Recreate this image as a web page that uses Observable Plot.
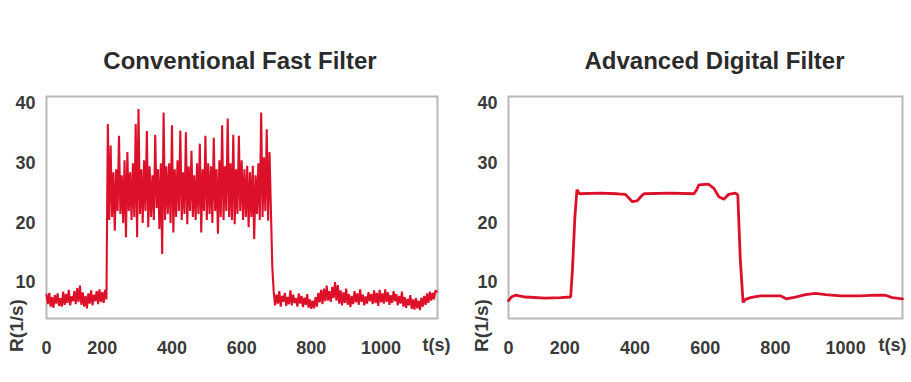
<!DOCTYPE html>
<html><head><meta charset="utf-8">
<script src="https://cdn.jsdelivr.net/npm/d3@7"></script>
<script src="https://cdn.jsdelivr.net/npm/@observablehq/plot@0.6"></script>
<style>
body{margin:0;background:#fff}
#row{display:flex;width:911px;height:382px;overflow:hidden}
</style>
</head><body><div id="row"></div>
<script>
const panelTitles = ["Conventional Fast Filter", "Advanced Digital Filter"];
const xTicks = [0, 200, 400, 600, 800, 1000];
const yTicks = [10, 20, 30, 40];
const xLabel = "t(s)";
const yLabel = "R(1/s)";

// Conventional fast filter: one reading every 4 s starting at t = 40 s
const convStart = 40, convStep = 4;
const convR = [
  8.0, 6.4, 8.3, 6.0, 7.6, 5.8, 7.9, 6.5, 8.2, 6.1,
  7.4, 6.0, 8.5, 6.3, 8.1, 6.6, 8.8, 6.2, 7.7, 6.9,
  8.6, 6.4, 9.1, 6.8, 9.5, 6.3, 8.4, 6.0, 7.8, 5.7,
  8.2, 6.5, 8.7, 6.2, 8.0, 6.9, 8.6, 6.4, 8.9, 6.8,
  8.4, 6.6, 8.8, 7.2,
  36.6, 20.5, 33.0, 21.0, 28.5, 18.7, 29.0, 22.0, 34.6, 21.5,
  28.0, 20.0, 30.5, 17.6, 31.9, 22.0, 28.5, 20.5, 30.0, 21.0,
  36.6, 17.6, 39.1, 21.5, 29.0, 20.0, 30.5, 22.0, 35.4, 19.3,
  29.5, 21.0, 28.0, 20.5, 34.8, 22.5, 29.0, 19.0, 30.0, 14.8,
  38.5, 20.5, 29.5, 21.5, 30.0, 20.0, 36.4, 18.4, 29.0, 21.0,
  30.5, 22.0, 35.5, 20.5, 28.5, 21.5, 35.2, 19.8, 29.5, 22.0,
  32.1, 21.0, 28.0, 20.5, 30.0, 21.5, 33.3, 18.4, 29.0, 22.0,
  34.6, 20.5, 30.0, 21.5, 29.5, 20.0, 34.3, 22.0, 29.0, 18.2,
  30.5, 21.0, 36.4, 20.5, 29.5, 22.0, 37.5, 21.0, 30.0, 20.5,
  34.8, 19.8, 29.0, 21.5, 34.6, 22.0, 30.5, 20.5, 29.0, 21.0,
  29.6, 19.3, 28.5, 21.0, 29.6, 17.3, 28.0, 21.5, 30.0, 20.5,
  38.5, 21.0, 31.0, 22.0, 35.7, 20.4, 31.9, 22.0, 12.6,
  8.5, 6.2, 8.0, 6.5, 8.6, 6.0, 7.8, 6.8, 8.3, 6.1,
  7.6, 6.4, 8.7, 6.2, 8.0, 6.6, 7.4, 6.0, 8.2, 6.5,
  7.8, 5.9, 7.5, 6.3, 8.1, 5.8, 7.2, 5.6, 7.0, 5.7,
  7.6, 6.0, 8.3, 6.7, 8.8, 6.4, 9.0, 6.9, 9.5, 7.0,
  8.6, 6.8, 9.3, 7.4, 10.1, 7.0, 9.6, 6.5, 8.7, 6.2,
  8.4, 6.6, 9.0, 6.3, 8.1, 5.9, 7.8, 6.4, 8.6, 6.7,
  8.2, 6.3, 8.9, 6.8, 8.0, 6.2, 7.7, 6.5, 8.4, 6.9,
  8.1, 6.4, 8.7, 6.6, 8.3, 6.1, 8.8, 6.7, 8.2, 6.5,
  8.9, 6.8, 8.4, 6.3, 7.9, 6.6, 8.6, 6.9, 8.1, 6.2,
  7.8, 6.5, 8.5, 6.0, 7.6, 5.8, 7.3, 6.2, 7.9, 5.6,
  7.2, 5.5, 7.4, 5.7, 7.0, 5.4, 7.5, 6.0, 7.8, 6.3,
  8.2, 6.6, 8.5, 7.0, 8.3, 7.2, 8.7, 8.5
];

// Advanced digital filter
const advT = [40, 48, 60, 88, 145, 188, 217, 222, 229, 235,
  242, 300, 350, 373, 384, 392, 406, 420, 426, 500,
  568, 576, 582, 610, 625, 639, 653, 667, 686, 693,
  700, 708, 715, 729, 757, 814, 831, 857, 886, 914,
  943, 985, 1042, 1085, 1113, 1133, 1162];
const advR = [7.0, 7.6, 7.9, 7.6, 7.4, 7.5, 7.6, 12.0, 21.0, 25.6,
  24.9, 25.0, 24.9, 24.8, 24.1, 23.6, 23.7, 24.6, 24.9, 25.0,
  24.9, 25.6, 26.4, 26.5, 25.8, 24.4, 24.0, 24.8, 25.0, 24.7,
  14.0, 6.7, 7.2, 7.5, 7.8, 7.8, 7.3, 7.6, 8.0, 8.2,
  8.0, 7.8, 7.8, 7.9, 7.9, 7.5, 7.3];

const convData = convR.map((r, i) => ({t: convStart + i * convStep, r}));
const advData = advT.map((t, i) => ({t, r: advR[i]}));

const red = "#dc1029";

function panel({title, data, width, ml, mr, sw, titleDx, yLabDx, tDx}) {
  return Plot.plot({
    width, height: 382,
    marginLeft: ml, marginRight: mr, marginTop: 96, marginBottom: 64,
    style: {fontFamily: "'Liberation Sans', Arial, sans-serif", fontSize: "18px",
            fontWeight: "bold", color: "#3a3a3a", background: "white", overflow: "visible"},
    x: {domain: [40, 1162], clamp: true},
    y: {domain: [4, 41.2]},
    marks: [
      Plot.frame({stroke: "#b8b8b8", strokeWidth: 2}),
      Plot.line(data, {x: "t", y: "r", stroke: red, strokeWidth: sw, strokeLinejoin: "miter"}),
      Plot.axisX({ticks: xTicks, tickSize: 0, tickPadding: 23, tickFormat: "d", label: null}),
      Plot.axisY({ticks: yTicks, tickSize: 0, tickPadding: 11, label: null}),
      Plot.text([title], {frameAnchor: "top", dy: -45, dx: titleDx, fontSize: 24,
                          fontWeight: "bold", fill: "#2b2b2b"}),
      Plot.text([yLabel], {frameAnchor: "bottom-left", rotate: -90, dx: yLabDx, dy: 7,
                           textAnchor: "middle", fontSize: 19, fill: "#3a3a3a"}),
      Plot.text([xLabel], {frameAnchor: "bottom-right", dx: tDx, dy: 32,
                           textAnchor: "middle", fontSize: 18, fill: "#3a3a3a"})
    ]
  });
}

const row = document.getElementById("row");
row.append(panel({title: panelTitles[0], data: convData, width: 455, ml: 46, mr: 18,
                  sw: 2.1, titleDx: -2, yLabDx: -24, tDx: -1}));
row.append(panel({title: panelTitles[1], data: advData, width: 456, ml: 53, mr: 9,
                  sw: 2.8, titleDx: 9, yLabDx: -21, tDx: -10}));
</script>
</body></html>
